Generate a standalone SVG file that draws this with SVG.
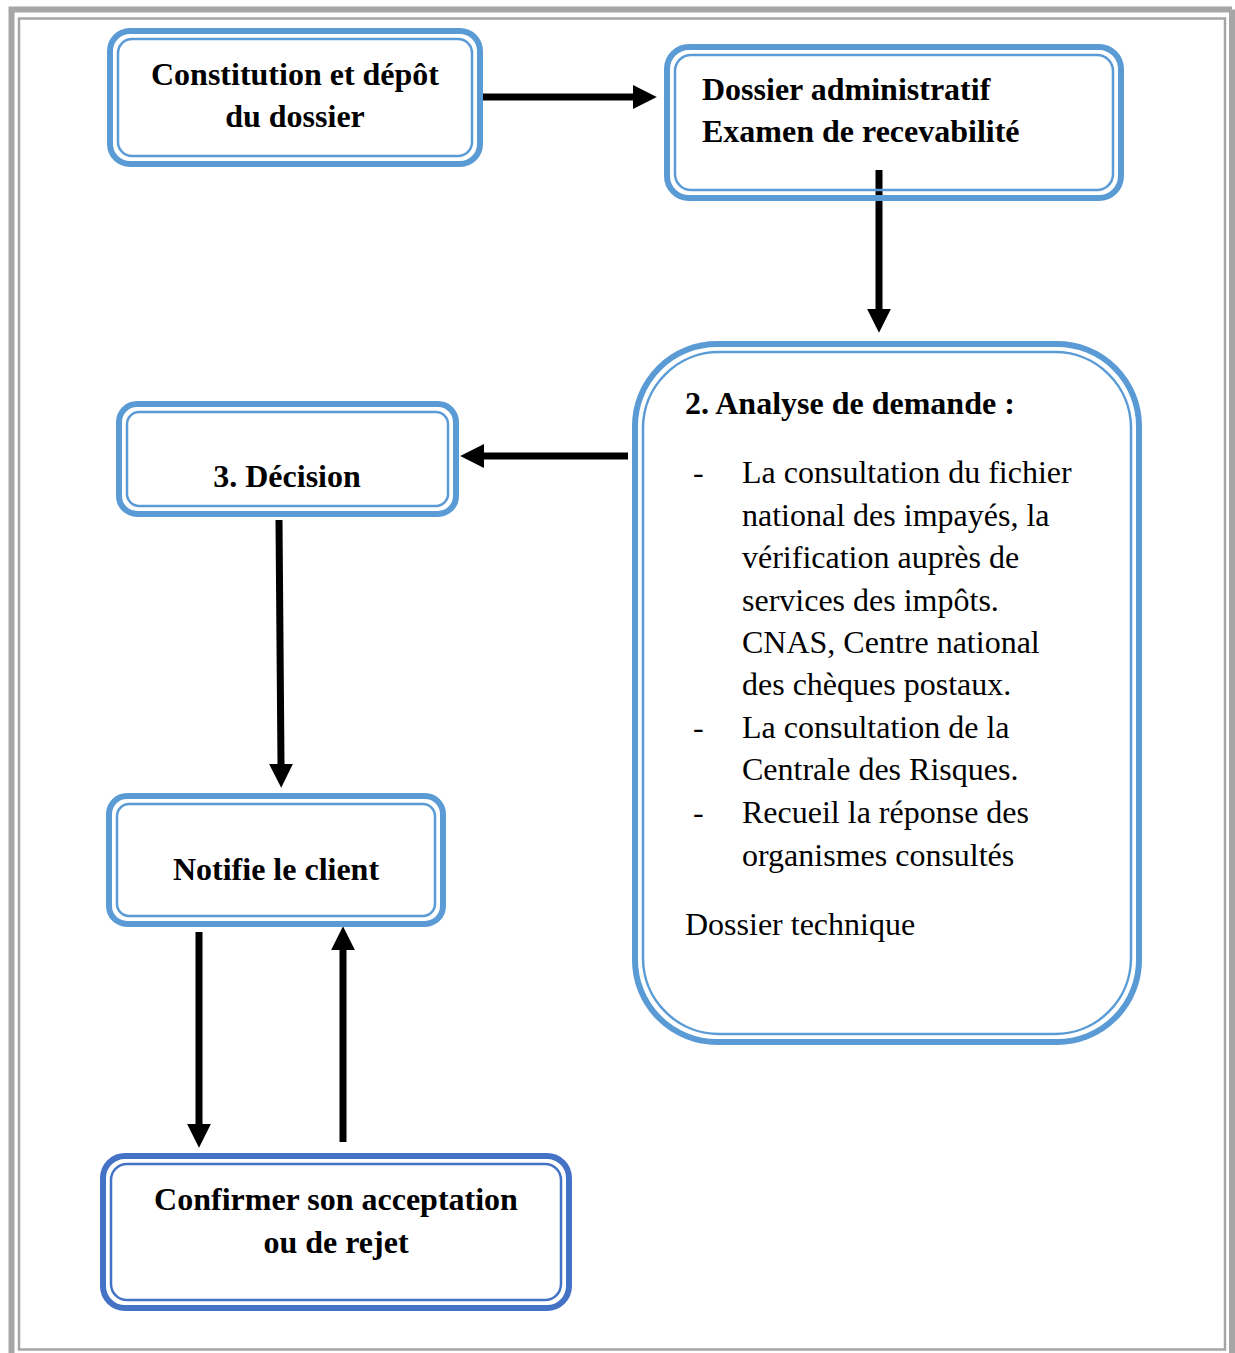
<svg xmlns="http://www.w3.org/2000/svg" width="1235" height="1353" viewBox="0 0 1235 1353">
<defs>
<style>
.o{fill:none;stroke:#5B9BD5;stroke-width:6}
.i{fill:none;stroke:#5B9BD5;stroke-width:2.5}
.od{fill:none;stroke:#4472C4;stroke-width:6}
.id{fill:none;stroke:#4472C4;stroke-width:2.5}
.b{font-family:"Liberation Serif",serif;font-weight:bold;font-size:32px;fill:#000}
.r{font-family:"Liberation Serif",serif;font-size:32px;fill:#000}
.c{text-anchor:middle}
.ar{stroke:#000;stroke-width:7;fill:none}
</style>
<marker id="ah" viewBox="0 0 10 10" refX="0" refY="5" markerWidth="3.4" markerHeight="3.4" markerUnits="strokeWidth" orient="auto">
<path d="M0,0 L10,5 L0,10 z" fill="#000"/>
</marker>
</defs>
<rect width="1235" height="1353" fill="#fff"/>
<g id="frame">
<path d="M11.5,1353 V9.5 H1232" fill="none" stroke="#A6A6A6" stroke-width="6"/>
<path d="M1232,9.5 V1353" fill="none" stroke="#A6A6A6" stroke-width="6"/>
<rect x="19" y="18.5" width="1206" height="1331" fill="none" stroke="#A6A6A6" stroke-width="2.5"/>
</g>
<g id="connectors">
<line class="ar" x1="483" y1="97" x2="633" y2="97" marker-end="url(#ah)"/>
<line class="ar" x1="879" y1="170" x2="879" y2="309" marker-end="url(#ah)"/>
<line class="ar" x1="628" y1="456" x2="484" y2="456" marker-end="url(#ah)"/>
<line class="ar" x1="279" y1="520" x2="281" y2="764" marker-end="url(#ah)"/>
<line class="ar" x1="199" y1="932" x2="199" y2="1124" marker-end="url(#ah)"/>
<line class="ar" x1="343" y1="1142" x2="343" y2="950" marker-end="url(#ah)"/>
</g>
<g id="n1">
<rect class="o" x="110" y="31" width="370" height="133" rx="20"/>
<rect class="i" x="118" y="39" width="354" height="117" rx="14"/>
<text class="b c" x="295" y="85">Constitution et dépôt</text>
<text class="b c" x="295" y="127">du dossier</text>
</g>
<g id="n2">
<rect class="o" x="667" y="47" width="454" height="151" rx="22"/>
<rect class="i" x="675" y="55" width="438" height="135" rx="16"/>
<text class="b" x="702" y="100">Dossier administratif</text>
<text class="b" x="702" y="142">Examen de recevabilité</text>
</g>
<g id="n3">
<rect class="o" x="635" y="344" width="504" height="698" rx="82"/>
<rect class="i" x="643" y="352" width="488" height="682" rx="76"/>
<text class="b" x="685" y="414">2. Analyse de demande :</text>
<text class="r" x="693" y="483">-</text>
<text class="r" x="742" y="483">La consultation du fichier</text>
<text class="r" x="742" y="526">national des impayés, la</text>
<text class="r" x="742" y="568">vérification auprès de</text>
<text class="r" x="742" y="611">services des impôts.</text>
<text class="r" x="742" y="653">CNAS, Centre national</text>
<text class="r" x="742" y="695">des chèques postaux.</text>
<text class="r" x="693" y="738">-</text>
<text class="r" x="742" y="738">La consultation de la</text>
<text class="r" x="742" y="780">Centrale des Risques.</text>
<text class="r" x="693" y="823">-</text>
<text class="r" x="742" y="823">Recueil la réponse des</text>
<text class="r" x="742" y="866">organismes consultés</text>
<text class="r" x="685" y="935">Dossier technique</text>
</g>
<g id="n4">
<rect class="o" x="119" y="404" width="337" height="110" rx="18"/>
<rect class="i" x="127" y="412" width="321" height="94" rx="12"/>
<text class="b c" x="287" y="487">3. Décision</text>
</g>
<g id="n5">
<rect class="o" x="109" y="796" width="334" height="128" rx="18"/>
<rect class="i" x="117" y="804" width="318" height="112" rx="12"/>
<text class="b c" x="276" y="880">Notifie le client</text>
</g>
<g id="n6">
<rect class="od" x="103" y="1156" width="466" height="152" rx="22"/>
<rect class="id" x="111" y="1164" width="450" height="136" rx="16"/>
<text class="b c" x="336" y="1210">Confirmer son acceptation</text>
<text class="b c" x="336" y="1253">ou de rejet</text>
</g>
</svg>
